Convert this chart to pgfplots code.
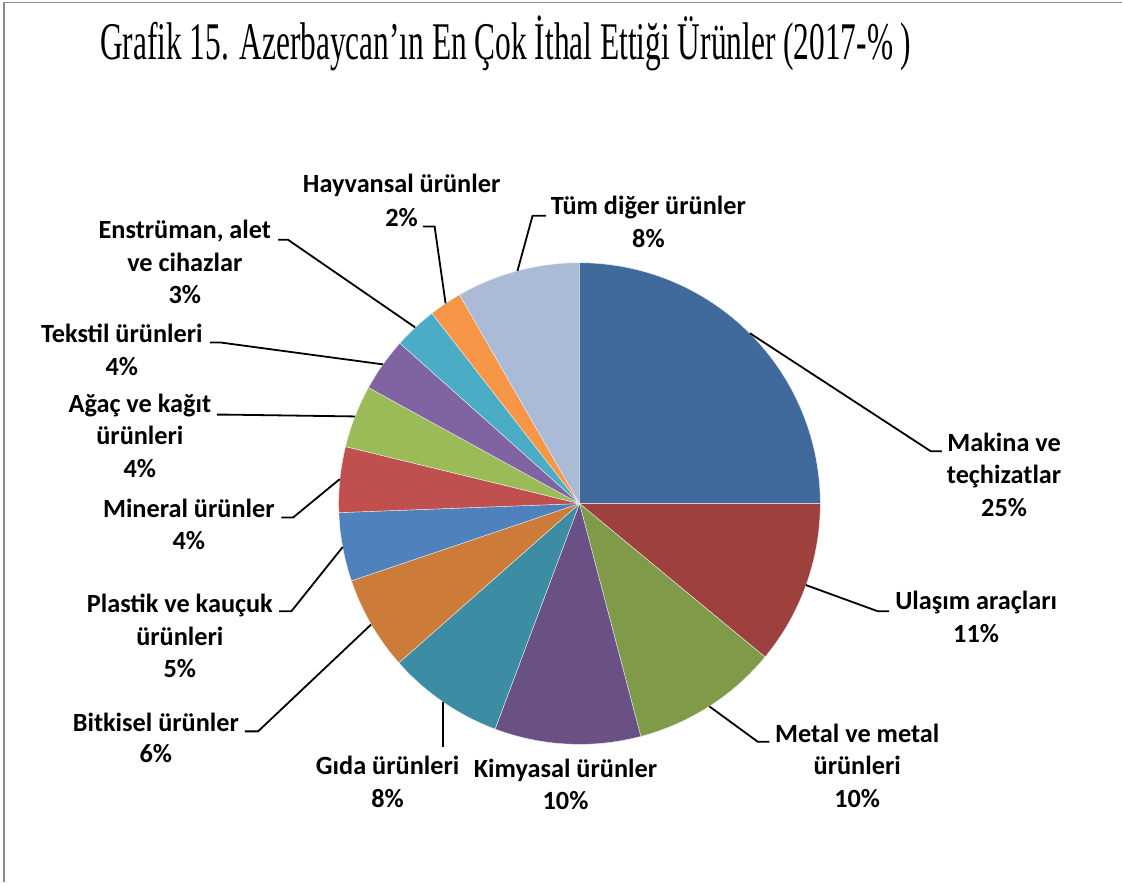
\documentclass[border=0pt]{standalone}
\usepackage{pgfplots}
\pgfplotsset{compat=1.18}
\usepackage{pgfplotstable}
\usepackage{graphicx}
\usepackage{fontspec}
\setmainfont{Carlito}
\newfontfamily\titlefont{Liberation Serif}

\definecolor{cMak}{HTML}{40699C}
\definecolor{cUla}{HTML}{9E413E}
\definecolor{cMet}{HTML}{7F9A48}
\definecolor{cKim}{HTML}{695185}
\definecolor{cGid}{HTML}{3C8DA3}
\definecolor{cBit}{HTML}{CC7B38}
\definecolor{cPla}{HTML}{4F81BD}
\definecolor{cMin}{HTML}{C0504D}
\definecolor{cAga}{HTML}{9BBB59}
\definecolor{cTek}{HTML}{8064A2}
\definecolor{cEns}{HTML}{4BACC6}
\definecolor{cHay}{HTML}{F79646}
\definecolor{cDig}{HTML}{AABAD7}

% share (%) of each product group, clockwise from 12 o'clock
\pgfplotstableread{
value color
25.0 cMak
11.0 cUla
9.9  cMet
9.8  cKim
7.8  cGid
6.3  cBit
4.6  cPla
4.4  cMin
4.2  cAga
3.6  cTek
2.9  cEns
2.2  cHay
8.3  cDig
}\piedata

\newcommand{\lbl}[3]{\node[anchor=base, inner sep=0pt, font=\fontsize{26.3}{32.5}\selectfont\bfseries] at (axis cs:#1,#2) {#3};}

\begin{document}
\begin{tikzpicture}
\begin{axis}[
  scale only axis, width=1123pt, height=883pt,
  xmin=0, xmax=1123, ymin=0, ymax=883, y dir=reverse,
  hide axis, clip=false,
]
\path (axis cs:0,0) rectangle (axis cs:1123,883);
% frame
\draw[color=black!45, line width=2pt] (axis cs:4.5,883) -- (axis cs:4.5,2.5) -- (axis cs:1123,2.5);

% pie slices
\xdef\angA{90}
\pgfplotsforeachungrouped \i in {0,...,12}{%
  \pgfplotstablegetelem{\i}{value}\of\piedata
  \pgfmathsetmacro\angB{\angA - 3.6*\pgfplotsretval}%
  \pgfplotstablegetelem{\i}{color}\of\piedata
  \edef\cmd{\noexpand\fill[fill=\pgfplotsretval, draw=white!85!gray, line width=0.4pt] (axis cs:580,504) -- ++(\angA:241pt) arc[start angle=\angA, end angle=\angB, radius=241pt] -- cycle;}%
  \cmd
  \xdef\angA{\angB}%
}

% title
\node[anchor=base west, inner sep=0pt] at (axis cs:100,60)
  {\resizebox{812pt}{\height}{\titlefont\fontsize{53}{60}\selectfont Grafik 15. Azerbaycan’ın En Çok İthal Ettiği Ürünler (2017-\% )}};

% leader lines
\begin{scope}[line width=1.8pt, black]
\draw (axis cs:750.5,333.5) -- (axis cs:931.7,451.7) -- (axis cs:942.7,451.7);
\draw (axis cs:806.7,585.6) -- (axis cs:878.3,611.7) -- (axis cs:890,611.7);
\draw (axis cs:710,707) -- (axis cs:758.3,742.3) -- (axis cs:770,742.3);
\draw (axis cs:443,703) -- (axis cs:443,748);
\draw (axis cs:371.5,625) -- (axis cs:258.3,732) -- (axis cs:245,732);
\draw (axis cs:343,547.5) -- (axis cs:291.7,611.7) -- (axis cs:279.3,611.7);
\draw (axis cs:340,479.6) -- (axis cs:293.3,518) -- (axis cs:281.7,518);
\draw (axis cs:355.3,416.8) -- (axis cs:228,415) -- (axis cs:217,415);
\draw (axis cs:383.3,364.7) -- (axis cs:220,342.7) -- (axis cs:210,342.7);
\draw (axis cs:415.6,327.7) -- (axis cs:288.3,240) -- (axis cs:278.3,240);
\draw (axis cs:446,303.7) -- (axis cs:435,226.7) -- (axis cs:423.3,226.7);
\draw (axis cs:517.9,271.2) -- (axis cs:533,216) -- (axis cs:546.7,216);
\end{scope}

% labels
\lbl{402}{193}{Hayvansal ürünler}
\lbl{402}{227}{2\%}
\lbl{649}{215}{Tüm diğer ürünler}
\lbl{649}{248}{8\%}
\lbl{185}{239}{Enstrüman, alet}
\lbl{185}{272}{ve cihazlar}
\lbl{185}{304}{3\%}
\lbl{122}{343}{Tekstil ürünleri}
\lbl{122}{376}{4\%}
\lbl{140}{413}{Ağaç ve kağıt}
\lbl{140}{445}{ürünleri}
\lbl{140}{478}{4\%}
\lbl{189}{518}{Mineral ürünler}
\lbl{189}{550}{4\%}
\lbl{180}{613}{Plastik ve kauçuk}
\lbl{180}{646}{ürünleri}
\lbl{180}{678}{5\%}
\lbl{156}{732}{Bitkisel ürünler}
\lbl{156}{763}{6\%}
\lbl{388}{775}{Gıda ürünleri}
\lbl{388}{808}{8\%}
\lbl{566}{778}{Kimyasal ürünler}
\lbl{566}{810}{10\%}
\lbl{858}{743}{Metal ve metal}
\lbl{858}{775}{ürünleri}
\lbl{858}{808}{10\%}
\lbl{1005}{452}{Makina ve}
\lbl{1005}{484}{teçhizatlar}
\lbl{1005}{517}{25\%}
\lbl{977}{610}{Ulaşım araçları}
\lbl{977}{643}{11\%}
\end{axis}
\end{tikzpicture}
\end{document}
